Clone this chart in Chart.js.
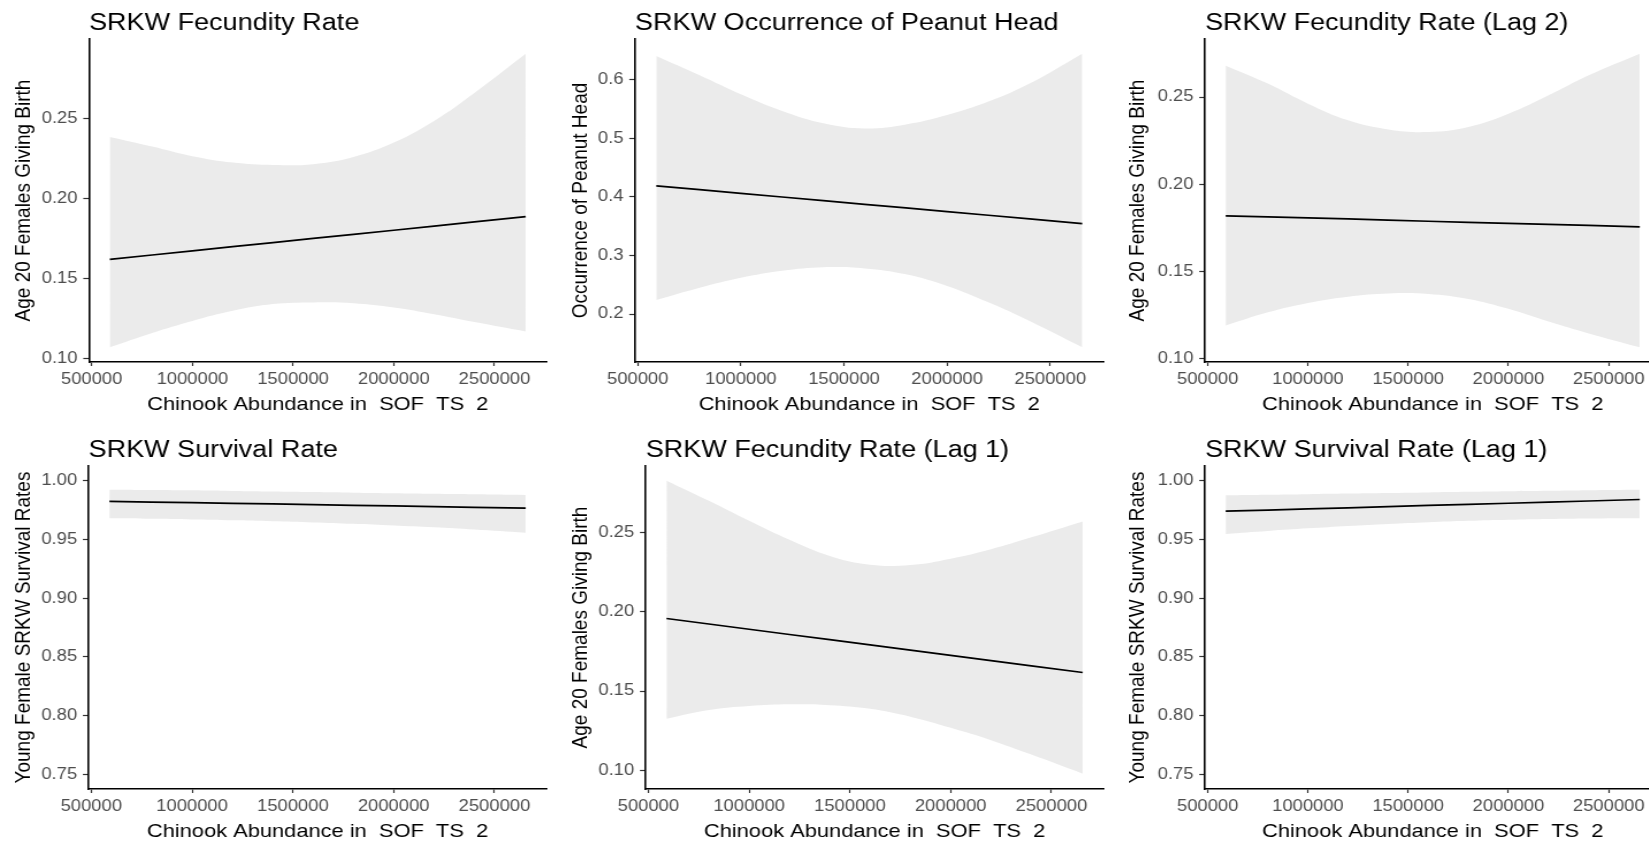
<!DOCTYPE html>
<html>
<head>
<meta charset="utf-8">
<title>SRKW rates vs Chinook abundance</title>
<script src="https://cdn.jsdelivr.net/npm/chart.js@4.4.1/dist/chart.umd.min.js"></script>
<style>
  html, body { margin: 0; padding: 0; background: #fff; }
  body { width: 1649px; height: 846px; overflow: hidden; position: relative; }
  .panel { position: absolute; transform: scaleX(1.15); transform-origin: 0 0; }
</style>
</head>
<body>
<script>
// x values shared by every panel (Chinook abundance)
const chinook = [590000, 800000, 1000000, 1200000, 1400000, 1600000, 1800000, 2000000, 2200000, 2400000, 2655000];
const xTicks = [500000, 1000000, 1500000, 2000000, 2500000];

// SRKW Fecundity Rate
const fecFit   = [0.162, 0.1647, 0.1673, 0.1699, 0.1725, 0.1751, 0.1776, 0.1802, 0.1828, 0.1854, 0.1887];
const fecUpper = [0.2385, 0.2325, 0.2265, 0.2225, 0.221, 0.2215, 0.226, 0.235, 0.2485, 0.266, 0.2905];
const fecLower = [0.107, 0.116, 0.1235, 0.1298, 0.134, 0.135, 0.1346, 0.1319, 0.1277, 0.1228, 0.1169];

// SRKW Occurrence of Peanut Head
const peanutFit   = [0.419, 0.4125, 0.4062, 0.4, 0.3937, 0.3875, 0.3813, 0.375, 0.3688, 0.3625, 0.3546];
const peanutUpper = [0.641, 0.608, 0.5755, 0.547, 0.526, 0.517, 0.524, 0.540, 0.563, 0.594, 0.645];
const peanutLower = [0.224, 0.245, 0.262, 0.274, 0.28, 0.278, 0.268, 0.248, 0.22, 0.188, 0.143];

// SRKW Fecundity Rate (Lag 2)
const lag2Fit   = [0.1818, 0.1812, 0.1806, 0.18, 0.1793, 0.1787, 0.1781, 0.1775, 0.1769, 0.1763, 0.1755];
const lag2Upper = [0.268, 0.2577, 0.2462, 0.2366, 0.2314, 0.2299, 0.2328, 0.2404, 0.251, 0.2625, 0.2749];
const lag2Lower = [0.1188, 0.1264, 0.1318, 0.1354, 0.1372, 0.137, 0.1341, 0.1284, 0.1211, 0.1143, 0.1063];

// SRKW Survival Rate
const survFit   = [0.9824, 0.9818, 0.9813, 0.9807, 0.9802, 0.9796, 0.979, 0.9785, 0.9779, 0.9773, 0.9767];
const survUpper = [0.9923, 0.9921, 0.9918, 0.9913, 0.9908, 0.9903, 0.9898, 0.9893, 0.9888, 0.9884, 0.9878];
const survLower = [0.968, 0.9676, 0.967, 0.9663, 0.9655, 0.9645, 0.9633, 0.9619, 0.9603, 0.9584, 0.9557];

// SRKW Fecundity Rate (Lag 1)
const lag1Fit   = [0.1958, 0.1923, 0.189, 0.1857, 0.1824, 0.1791, 0.1758, 0.1725, 0.1692, 0.1659, 0.1617];
const lag1Upper = [0.2827, 0.27, 0.2574, 0.2454, 0.2352, 0.2297, 0.2295, 0.2335, 0.2395, 0.247, 0.257];
const lag1Lower = [0.1325, 0.138, 0.1405, 0.1416, 0.1411, 0.1388, 0.1338, 0.1268, 0.119, 0.1099, 0.0979];

// SRKW Survival Rate (Lag 1)
const survLag1Fit   = [0.974, 0.975, 0.976, 0.9769, 0.9779, 0.9789, 0.9798, 0.9808, 0.9818, 0.9827, 0.984];
const survLag1Upper = [0.9875, 0.988, 0.9885, 0.989, 0.9895, 0.99, 0.9905, 0.991, 0.9914, 0.9919, 0.9923];
const survLag1Lower = [0.9547, 0.9572, 0.9594, 0.9614, 0.9631, 0.9646, 0.9658, 0.9667, 0.9674, 0.9678, 0.968];

// y tick labels
const fecTicks = [0.10, 0.15, 0.20, 0.25];
const peanutTicks = [0.2, 0.3, 0.4, 0.5, 0.6];
const survTicks = [0.75, 0.80, 0.85, 0.90, 0.95, 1.00];

const xTitle = 'Chinook Abundance in  SOF  TS  2';
const fecLabel = 'Age 20 Females Giving Birth';
const survLabel = 'Young Female SRKW Survival Rates';

const panels = [
  { title: 'SRKW Fecundity Rate', yTitle: fecLabel, fit: fecFit, upper: fecUpper, lower: fecLower,
    yMin: 0.0978, yMax: 0.2998, yTicks: fecTicks, digits: 2, col: 0, row: 0, plotLeft: 89 },
  { title: 'SRKW Occurrence of Peanut Head', yTitle: 'Occurrence of Peanut Head', fit: peanutFit, upper: peanutUpper, lower: peanutLower,
    yMin: 0.118, yMax: 0.670, yTicks: peanutTicks, digits: 1, col: 1, row: 0, plotLeft: 78 },
  { title: 'SRKW Fecundity Rate (Lag 2)', yTitle: fecLabel, fit: lag2Fit, upper: lag2Upper, lower: lag2Lower,
    yMin: 0.0979, yMax: 0.2833, yTicks: fecTicks, digits: 2, col: 2, row: 0, plotLeft: 91 },
  { title: 'SRKW Survival Rate', yTitle: survLabel, fit: survFit, upper: survUpper, lower: survLower,
    yMin: 0.7375, yMax: 1.0125, yTicks: survTicks, digits: 2, col: 0, row: 1, plotLeft: 88.6 },
  { title: 'SRKW Fecundity Rate (Lag 1)', yTitle: fecLabel, fit: lag1Fit, upper: lag1Upper, lower: lag1Lower,
    yMin: 0.0882, yMax: 0.2920, yTicks: fecTicks, digits: 2, col: 1, row: 1, plotLeft: 88.7 },
  { title: 'SRKW Survival Rate (Lag 1)', yTitle: survLabel, fit: survLag1Fit, upper: survLag1Upper, lower: survLag1Lower,
    yMin: 0.7375, yMax: 1.0125, yTicks: survTicks, digits: 2, col: 2, row: 1, plotLeft: 91 }
];

// page layout (screen px); the text in the original is a bit wide, so each panel is stretched sideways
const SX = 1.15;
const CELL_W = 557, CELL_H = 423;
const ROW_TOP = [0, 427];
const PLOT_TOP = 39, PLOT_BOTTOM = 362, PLOT_RIGHT = 546.5;
const X_MIN = 486750, X_MAX = 2758250;
const TITLE_SIZE = 23.5, TITLE_PAD = 9.2;
const canvasW = Math.round(CELL_W / SX);

Chart.defaults.font.family = "'Liberation Sans', Arial, sans-serif";

function pts(arr) {
  return chinook.map((x, i) => ({ x: x, y: arr[i] }));
}

panels.forEach(p => {
  const div = document.createElement('div');
  div.className = 'panel';
  div.style.left = (p.col * CELL_W) + 'px';
  div.style.top = ROW_TOP[p.row] + 'px';
  const cv = document.createElement('canvas');
  cv.width = canvasW;
  cv.height = CELL_H;
  div.appendChild(cv);
  document.body.appendChild(div);

  new Chart(cv, {
    type: 'line',
    data: {
      datasets: [
        { data: pts(p.fit), borderColor: '#000', borderWidth: 1.7, pointRadius: 0, fill: false, tension: 0 },
        { data: pts(p.upper), borderColor: 'transparent', borderWidth: 0, pointRadius: 0,
          fill: '+1', backgroundColor: '#EBEBEB', tension: 0.4 },
        { data: pts(p.lower), borderColor: 'transparent', borderWidth: 0, pointRadius: 0,
          fill: false, tension: 0.4 }
      ]
    },
    options: {
      responsive: false,
      animation: false,
      events: [],
      layout: { padding: { left: 0, top: 0, bottom: 0, right: canvasW - PLOT_RIGHT / SX } },
      plugins: {
        legend: { display: false },
        tooltip: { enabled: false },
        filler: { drawTime: 'beforeDatasetsDraw' },
        title: {
          display: true, text: p.title, align: 'start', fullSize: false, color: '#000',
          font: { size: TITLE_SIZE, weight: 'normal' },
          padding: { top: TITLE_PAD, bottom: PLOT_TOP - TITLE_PAD - TITLE_SIZE * 1.2 }
        }
      },
      scales: {
        x: {
          type: 'linear', min: X_MIN, max: X_MAX,
          afterBuildTicks: s => { s.ticks = xTicks.map(v => ({ value: v })); },
          afterFit: s => { s.height = CELL_H - PLOT_BOTTOM; },
          ticks: { color: '#4D4D4D', font: { size: 16 }, padding: 4, maxRotation: 0, autoSkip: false,
                   callback: v => String(v) },
          grid: { drawOnChartArea: false, drawTicks: true, tickLength: 4, tickColor: '#333', tickWidth: 1.2 },
          border: { display: true, color: '#000', width: 1.6 },
          title: { display: true, text: xTitle, color: '#000', font: { size: 19 }, padding: { top: 0, bottom: 6.6 } }
        },
        y: {
          type: 'linear', min: p.yMin, max: p.yMax,
          afterBuildTicks: s => { s.ticks = p.yTicks.map(v => ({ value: v })); },
          afterFit: s => { s.width = p.plotLeft / SX; },
          ticks: { color: '#4D4D4D', font: { size: 16 }, padding: 5,
                   callback: v => Number(v).toFixed(p.digits) },
          grid: { drawOnChartArea: false, drawTicks: true, tickLength: 5, tickColor: '#333', tickWidth: 1.2 },
          border: { display: true, color: '#000', width: 1.6 },
          title: { display: true, text: p.yTitle, color: '#000', font: { size: 19 }, padding: { top: 24 / SX - 11.4, bottom: 0 } }
        }
      }
    }
  });
});
</script>
</body>
</html>
